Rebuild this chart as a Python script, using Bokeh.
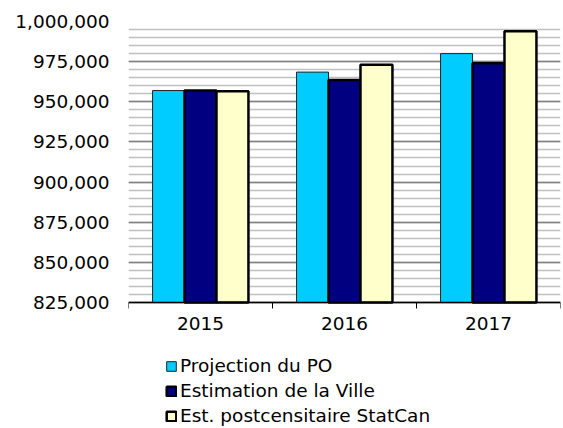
import numpy as np
from bokeh.plotting import figure
from bokeh.models import (ColumnDataSource, FixedTicker, NumeralTickFormatter,
                          Range1d, Legend, LegendItem)
from bokeh.transform import dodge
from bokeh.embed import file_html
from bokeh.resources import INLINE

# ---- data ----
years = ["2015", "2016", "2017"]
projection_po = [957000, 968500, 980000]
estimation_ville = [957000, 963500, 974000]
est_statcan = [956500, 973000, 994000]
series_names = ["Projection du PO", "Estimation de la Ville", "Est. postcensitaire StatCan"]
y_ticks = [825000, 850000, 875000, 900000, 925000, 950000, 975000, 1000000]
y_minor_step = 5000

FONT = "DejaVu Sans"
FS = "18.5px"

# ---- layout (pixels) ----
W, H = 563, 428
TOP, AXIS_Y = 21, 302          # pixel rows of the top tick and of the x axis
y_min, y_max = y_ticks[0], y_ticks[-1]
px_per_unit = (AXIS_Y - TOP) / (y_max - y_min)
y_low = y_min - (H - AXIS_Y) / px_per_unit   # frame extends down to hold legend

centers = list(np.arange(len(years)) + 0.5)
src = ColumnDataSource(dict(x=centers, years=years, proj=projection_po,
                            ville=estimation_ville, statcan=est_statcan))

p = figure(width=W, height=H, output_backend="svg", toolbar_location=None,
           x_range=Range1d(0, len(years)), y_range=Range1d(y_low, y_max),
           min_border_left=128, min_border_right=3, min_border_top=TOP,
           min_border_bottom=0)
p.outline_line_color = None
p.background_fill_color = "white"
p.border_fill_color = "white"

bw = 0.222
r1 = p.vbar(x=dodge("x", -bw, range=p.x_range), top="proj", bottom=y_min, width=bw, source=src,
            fill_color="#00CCFF", line_color="#222222", line_width=1)
r2 = p.vbar(x=dodge("x", 0, range=p.x_range), top="ville", bottom=y_min, width=bw, source=src,
            fill_color="#000080", line_color="black", line_width=2.5)
r3 = p.vbar(x=dodge("x", bw, range=p.x_range), top="statcan", bottom=y_min, width=bw, source=src,
            fill_color="#FFFFCC", line_color="black", line_width=2.5)

# y axis
p.yaxis.ticker = FixedTicker(ticks=y_ticks,
                             minor_ticks=list(range(y_min, y_max + 1, y_minor_step)))
p.yaxis.formatter = NumeralTickFormatter(format="0,0")
p.yaxis.axis_line_color = None
p.yaxis.major_tick_line_color = None
p.yaxis.minor_tick_line_color = None
p.yaxis.major_tick_out = 0
p.yaxis.minor_tick_out = 0
p.yaxis.major_label_text_font = FONT
p.yaxis.major_label_text_font_size = FS
p.yaxis.major_label_text_color = "black"
p.yaxis.major_label_standoff = 19

p.ygrid.grid_line_color = "#808080"
p.ygrid.grid_line_width = 1.5
p.ygrid.minor_grid_line_color = "#c0c0c0"
p.ygrid.minor_grid_line_width = 1.5
p.xgrid.grid_line_color = None

# x axis at the bottom value: labels at centres, ticks at category boundaries
p.xaxis.fixed_location = y_min
p.xaxis.ticker = FixedTicker(ticks=centers, minor_ticks=list(range(len(years) + 1)))
p.xaxis.major_label_overrides = {c: y for c, y in zip(centers, years)}
p.xaxis.major_tick_line_color = None
p.xaxis.major_tick_out = 0
p.xaxis.major_tick_in = 0
p.xaxis.minor_tick_line_color = "black"
p.xaxis.minor_tick_out = 6
p.xaxis.minor_tick_in = 0
p.xaxis.minor_tick_line_width = 1
p.xaxis.axis_line_color = "black"
p.xaxis.axis_line_width = 1.5
p.xaxis.major_label_text_font = FONT
p.xaxis.major_label_text_font_size = FS
p.xaxis.major_label_text_color = "black"
p.xaxis.major_label_standoff = 8

legend = Legend(items=[LegendItem(label=n, renderers=[r]) for n, r in zip(series_names, [r1, r2, r3])],
                location=(37, 2), orientation="vertical",
                label_text_font=FONT, label_text_font_size=FS, label_text_color="black",
                glyph_width=12, glyph_height=12, label_standoff=3, label_height=20,
                spacing=4, padding=0, margin=0,
                border_line_color=None, background_fill_alpha=0)
p.add_layout(legend, "center")

open("out.html", "w").write(file_html(p, INLINE))
